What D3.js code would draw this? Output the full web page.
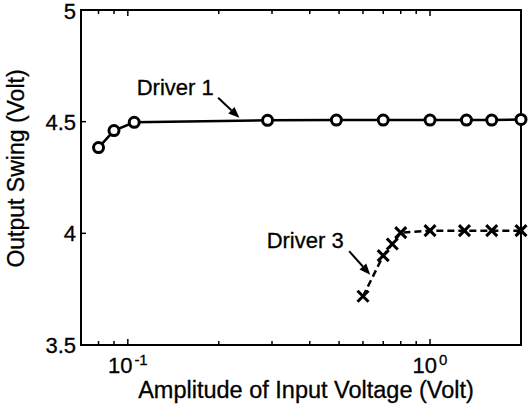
<!DOCTYPE html>
<html>
<head>
<meta charset="utf-8">
<script src="https://cdn.jsdelivr.net/npm/d3@7"></script>
<style>
  body { margin: 0; background: #fff; }
  svg { display: block; font-family: "Liberation Sans", Arial, sans-serif; }
  svg text { fill: #000; stroke: #000; stroke-width: 0.3; }
</style>
</head>
<body>
<div id="chart"></div>
<script>
// Driver 1 (circles, solid)
const driver1X = [0.08, 0.09, 0.105, 0.29, 0.49, 0.7, 1.0, 1.32, 1.6, 2.0];
const driver1Y = [4.384, 4.46, 4.497, 4.506, 4.507, 4.507, 4.507, 4.507, 4.507, 4.51];
// Driver 3 (crosses, dashed)
const driver3X = [0.6, 0.7, 0.75, 0.8, 1.0, 1.3, 1.6, 2.0];
const driver3Y = [3.718, 3.9, 3.952, 4.003, 4.012, 4.012, 4.012, 4.012];

const yTicks = [3.5, 4, 4.5, 5];
const xMajor = [0.1, 1];
const xMinor = [0.08, 0.09, 0.2, 0.3, 0.4, 0.5, 0.6, 0.7, 0.8, 0.9, 2];

// annotations: text anchor and arrow (data coords)
const notes = [
    { label: 'Driver 1', tx: 0.107, ty: 4.62, from: [0.199, 4.607], to: [0.234, 4.517] },
    { label: 'Driver 3', tx: 0.288, ty: 3.933, from: [0.54, 3.92], to: [0.634, 3.815] }
];

const W = 528, H = 404;
const margin = { top: 10, right: 7, bottom: 59, left: 81 };
const width = W - margin.left - margin.right;
const height = H - margin.top - margin.bottom;

const svg = d3.select('#chart').append('svg')
    .attr('width', W)
    .attr('height', H);

const g = svg.append('g')
    .attr('transform', `translate(${margin.left}, ${margin.top})`);

const x = d3.scaleLog().domain([0.07, 2]).range([0, width]);
const y = d3.scaleLinear().domain([3.5, 5]).range([height, 0]);

// ticks (inward, mirrored on all sides)
const tickG = g.append('g').attr('stroke', '#000').attr('stroke-width', 1.5);
xMajor.concat(xMinor).forEach(v => {
    const len = xMajor.includes(v) ? 6 : 4;
    tickG.append('line').attr('x1', x(v)).attr('x2', x(v)).attr('y1', height).attr('y2', height - len);
    tickG.append('line').attr('x1', x(v)).attr('x2', x(v)).attr('y1', 0).attr('y2', len);
});
yTicks.forEach(v => {
    tickG.append('line').attr('x1', 0).attr('x2', 5).attr('y1', y(v)).attr('y2', y(v));
    tickG.append('line').attr('x1', width).attr('x2', width - 5).attr('y1', y(v)).attr('y2', y(v));
});

// axis box
g.append('rect')
    .attr('width', width)
    .attr('height', height)
    .attr('fill', 'none')
    .attr('stroke', '#000')
    .attr('stroke-width', 2);

// y tick labels
g.selectAll('.ylab')
    .data(yTicks)
    .enter().append('text')
    .attr('class', 'ylab')
    .attr('x', -5)
    .attr('y', d => y(d))
    .attr('dy', d => d === 5 ? '0.42em' : '0.36em')
    .attr('text-anchor', 'end')
    .style('font-size', '22px')
    .text(d => d);

// x tick labels 10^n
xMajor.forEach(v => {
    const t = g.append('text')
        .attr('x', x(v))
        .attr('y', height + 28)
        .attr('text-anchor', 'middle')
        .style('font-size', '22px');
    t.append('tspan').text('10');
    t.append('tspan')
        .attr('dy', '-0.55em')
        .attr('dx', '2')
        .style('font-size', '15px')
        .text(String(Math.round(Math.log10(v))));
});

// axis labels
g.append('text')
    .attr('x', width / 2 + 5)
    .attr('y', height + 53)
    .attr('text-anchor', 'middle')
    .style('font-size', '23.5px')
    .text('Amplitude of Input Voltage (Volt)');

g.append('text')
    .attr('transform', 'rotate(-90)')
    .attr('x', -height / 2 + 9)
    .attr('y', -57)
    .attr('text-anchor', 'middle')
    .style('font-size', '23px')
    .text('Output Swing (Volt)');

// lines
const line = d3.line().x(d => x(d[0])).y(d => y(d[1]));
const d1 = driver1X.map((v, i) => [v, driver1Y[i]]);
const d3pts = driver3X.map((v, i) => [v, driver3Y[i]]);

g.append('path')
    .datum(d1)
    .attr('fill', 'none')
    .attr('stroke', '#000')
    .attr('stroke-width', 2.5)
    .attr('d', line);

g.append('path')
    .datum(d3pts)
    .attr('fill', 'none')
    .attr('stroke', '#000')
    .attr('stroke-width', 2.5)
    .attr('stroke-dasharray', '7,4')
    .attr('d', line);

// markers
g.selectAll('.circ')
    .data(d1)
    .enter().append('circle')
    .attr('class', 'circ')
    .attr('cx', d => x(d[0]))
    .attr('cy', d => y(d[1]))
    .attr('r', 5)
    .attr('fill', '#fff')
    .attr('stroke', '#000')
    .attr('stroke-width', 3);

const s = 5.5;
g.selectAll('.cross')
    .data(d3pts)
    .enter().append('path')
    .attr('class', 'cross')
    .attr('d', d => {
        const cx = x(d[0]), cy = y(d[1]);
        return `M${cx - s},${cy - s}L${cx + s},${cy + s}M${cx - s},${cy + s}L${cx + s},${cy - s}`;
    })
    .attr('stroke', '#000')
    .attr('stroke-width', 3);

// annotations
notes.forEach(n => {
    g.append('text')
        .attr('x', x(n.tx))
        .attr('y', y(n.ty))
        .style('font-size', '22px')
        .text(n.label);
    const x1 = x(n.from[0]), y1 = y(n.from[1]);
    const x2 = x(n.to[0]), y2 = y(n.to[1]);
    const ang = Math.atan2(y2 - y1, x2 - x1);
    const hl = 11, hw = 4.5;
    const bx = x2 - hl * Math.cos(ang), by = y2 - hl * Math.sin(ang);
    g.append('line')
        .attr('x1', x1).attr('y1', y1)
        .attr('x2', bx).attr('y2', by)
        .attr('stroke', '#000')
        .attr('stroke-width', 2);
    const px = -Math.sin(ang) * hw, py = Math.cos(ang) * hw;
    g.append('path')
        .attr('d', `M${x2},${y2}L${bx + px},${by + py}L${bx - px},${by - py}Z`)
        .attr('fill', '#000');
});
</script>
</body>
</html>
